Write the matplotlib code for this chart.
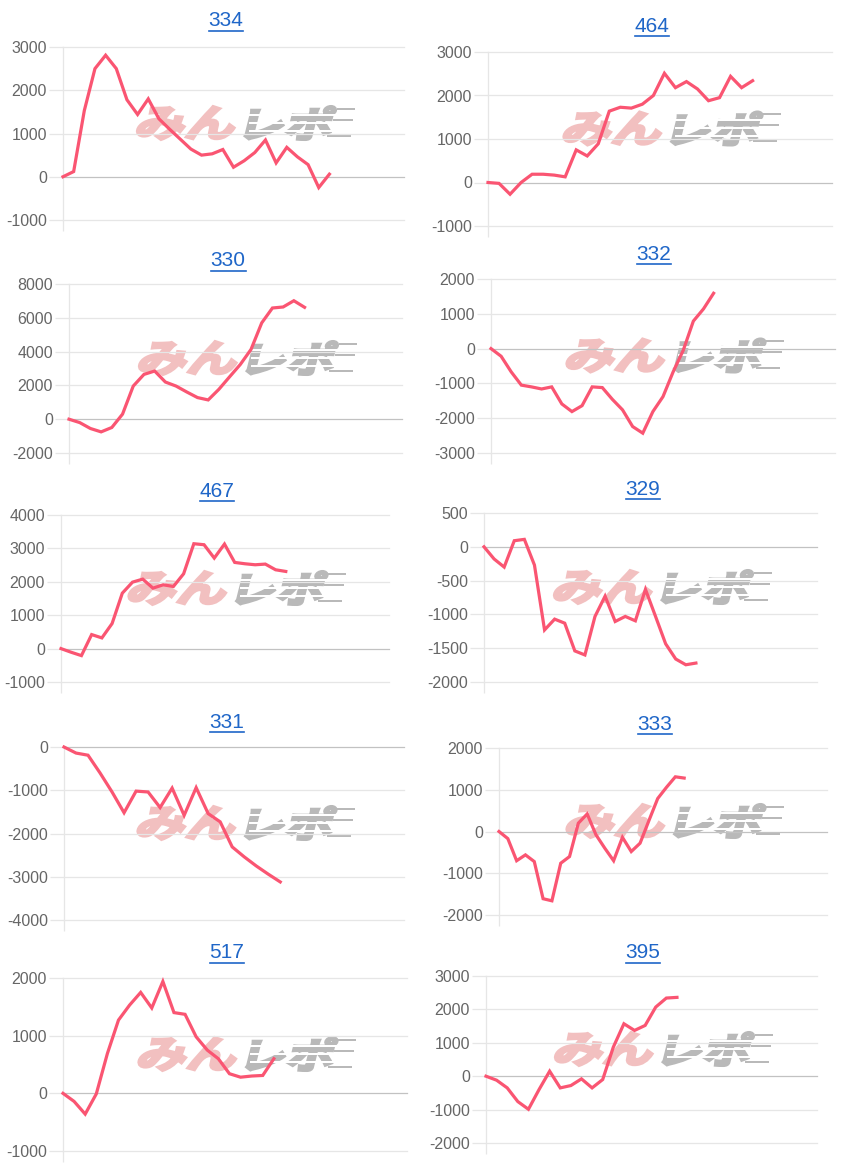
import matplotlib
matplotlib.use('Agg')
import matplotlib.pyplot as plt
from matplotlib.textpath import TextPath
from matplotlib.patches import PathPatch, Rectangle
from matplotlib.font_manager import FontProperties
from matplotlib.transforms import Affine2D
from matplotlib.lines import Line2D

# ---- data ----
titles = ['334', '464', '330', '332', '467', '329', '331', '333', '517', '395']

s334 = [0, 120, 1530, 2500, 2810, 2500, 1780, 1440, 1800, 1340, 1100, 870, 640,
        500, 530, 630, 220, 370, 560, 850, 320, 680, 460, 280, -250, 60]
s464 = [0, -20, -270, 0, 190, 190, 170, 130, 750, 610, 890, 1640, 1730, 1710,
        1800, 2000, 2510, 2180, 2320, 2150, 1880, 1950, 2440, 2180, 2340]
s330 = [0, -200, -550, -750, -490, 300, 1960, 2650, 2850, 2200, 1960, 1610, 1280,
        1140, 1770, 2510, 3240, 4130, 5700, 6580, 6640, 7010, 6620]
s332 = [0, -220, -670, -1050, -1100, -1160, -1100, -1590, -1810, -1640, -1100,
        -1120, -1460, -1760, -2240, -2430, -1810, -1380, -670, -50, 790, 1140, 1590]
s467 = [0, -110, -210, 420, 320, 750, 1660, 1990, 2080, 1810, 1910, 1860, 2240,
        3140, 3110, 2710, 3130, 2580, 2540, 2510, 2530, 2360, 2310]
s329 = [0, -180, -300, 90, 110, -270, -1230, -1070, -1130, -1540, -1600, -1030,
        -730, -1105, -1030, -1095, -630, -1030, -1435, -1660, -1745, -1720]
s331 = [0, -140, -190, -600, -1040, -1520, -1020, -1040, -1400, -950, -1580, -940,
        -1540, -1730, -2310, -2540, -2750, -2940, -3120]
s333 = [0, -170, -700, -560, -720, -1610, -1660, -760, -600, 200, 420, -80, -400,
        -700, -140, -480, -280, 260, 790, 1060, 1310, 1280]
s517 = [0, -140, -360, -10, 690, 1270, 1530, 1750, 1480, 1940, 1400, 1370, 980,
        750, 600, 340, 280, 300, 310, 600]
s395 = [0, -120, -350, -760, -990, -400, 150, -350, -280, -80, -350, -100, 870,
        1570, 1370, 1520, 2070, 2340, 2360]

series = [s334, s464, s330, s332, s467, s329, s331, s333, s517, s395]

# y axis ticks (min, max, step)
yticks = [(-1000, 3000, 1000), (-1000, 3000, 1000), (-2000, 8000, 2000),
          (-3000, 2000, 1000), (-1000, 4000, 1000), (-2000, 500, 500),
          (-4000, 0, 1000), (-2000, 2000, 1000), (-1000, 2000, 1000),
          (-2000, 3000, 1000)]

# ---- layout in pixels: plot box (left, right, top, bottom), x span, title pos ----
W, H = 846, 1164
boxes = [(63, 404, 47, 220), (488, 832, 52, 226),
         (69, 402, 284, 453), (491, 835, 279, 453),
         (61, 389, 515, 682), (484, 817, 513, 682),
         (64, 404, 747, 920), (499, 827, 748, 915),
         (63, 407, 978, 1151), (486, 817, 976, 1143)]
x_span = [32.0, 31.2, 31.1, 34.0, 32.1, 33.0, 28.3, 37.2, 31.0, 31.2]
title_pos = [(226, 21), (652, 26), (228, 261), (654, 254), (217, 491),
             (643, 489), (227, 722), (655, 724), (227, 953), (643, 953)]

line_color = '#fa5572'
grid_color = '#e6e6e6'
zero_color = '#c2c2c2'
label_color = '#666666'
title_color = '#1f66c8'

plt.rcParams['font.family'] = ['Liberation Sans', 'DejaVu Sans']

fig = plt.figure(figsize=(W / 100, H / 100), dpi=100)
fig.patch.set_facecolor('white')

logo_font = FontProperties(family='Noto Sans CJK JP', weight='bold')


def logo_piece(ax, text, x0, y0, w, h, color):
    # glyphs squeezed into a w x h pixel box, slanted and thickened
    p = TextPath((0, 0), text, size=100, prop=logo_font)
    ext = p.get_extents()
    tr = (Affine2D().translate(-ext.x0, -ext.y0)
          .scale(w / ext.width, h / ext.height)
          .skew_deg(14, 0).translate(x0 - h * 0.25, y0))
    patch = PathPatch(p, transform=tr, facecolor=color, edgecolor=color,
                      lw=2.2, joinstyle='miter', zorder=1)
    ax.add_artist(patch)


def watermark(ax, cx, cy):
    # cx, cy in image pixels (y downwards)
    yb = H - (cy + 17)
    logo_piece(ax, 'みん', cx - 103, yb, 96, 33, '#f2c0c0')
    logo_piece(ax, 'レポ', cx + 6, yb, 84, 33, '#b9b9b9')
    # speed lines cutting through the grey part
    for dy in [8, 16, 24]:
        r = Rectangle((cx + 2, yb + dy), 98, 1.6, transform=Affine2D(),
                      facecolor='white', edgecolor='none', zorder=1.2)
        ax.add_artist(r)
    for dy, x1, x2 in [(3, 80, 104), (19, 86, 106), (30, 90, 108)]:
        r = Rectangle((cx + x1, yb + dy), x2 - x1, 2.0, transform=Affine2D(),
                      facecolor='#b9b9b9', edgecolor='none', zorder=1)
        ax.add_artist(r)


for i in range(10):
    l, r, t, b = boxes[i]
    ax = fig.add_axes([l / W, 1 - b / H, (r - l) / W, (b - t) / H])
    vals = series[i]
    ax.plot(range(len(vals)), vals, color=line_color, lw=2.3, zorder=3,
            solid_joinstyle='miter', clip_on=False)

    lo, hi, step = yticks[i]
    ticks = list(range(lo, hi + 1, step))
    ax.set_ylim(lo, hi)
    ax.set_xlim(0, x_span[i])
    ax.set_yticks(ticks)
    ax.set_yticklabels([str(v) for v in ticks])
    ax.set_xticks([0])
    ax.set_xticklabels([''])

    for v in ticks:
        ax.axhline(v, color=zero_color if v == 0 else grid_color, lw=0.9,
                   zorder=1.5, clip_on=False)

    for side in ['top', 'right', 'bottom']:
        ax.spines[side].set_visible(False)
    ax.spines['left'].set_color(grid_color)
    ax.spines['left'].set_linewidth(0.9)
    ax.tick_params(axis='y', length=10, width=0.9, color=grid_color, pad=1.5,
                   labelsize=11.5, labelcolor=label_color)
    ax.tick_params(axis='x', length=8, width=0.9, color=grid_color)
    ax.patch.set_alpha(0)

    watermark(ax, (l + r) / 2 + 13, (t + b) / 2 - 11)

# titles with underline
title_texts = []
for i in range(10):
    x, y = title_pos[i]
    t = fig.text(x / W, 1 - y / H, titles[i], ha='center', va='center',
                 fontsize=15, color=title_color)
    title_texts.append(t)

fig.canvas.draw()
renderer = fig.canvas.get_renderer()
for t in title_texts:
    bb = t.get_window_extent(renderer)
    yl = bb.y0 - 0.5
    fig.add_artist(Line2D([bb.x0 / W, bb.x1 / W], [yl / H, yl / H],
                          color=title_color, lw=1.2))

fig.savefig('out.png', dpi=100)
